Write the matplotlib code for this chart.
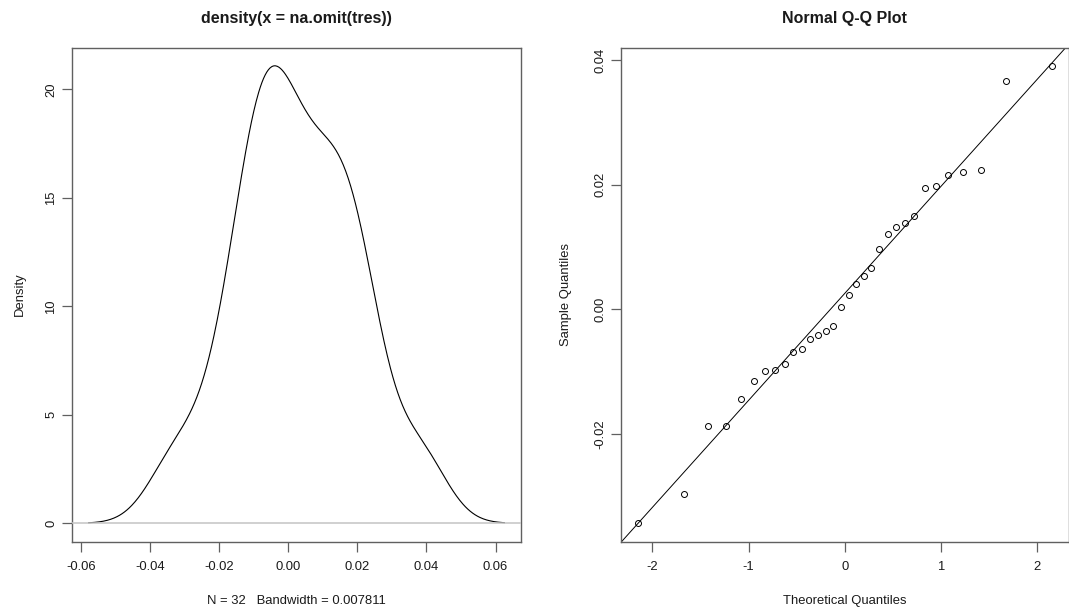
import numpy as np
import matplotlib
matplotlib.use("Agg")
import matplotlib.pyplot as plt
from statistics import NormalDist

# ---- data (sorted residuals, n = 32) ----
sample_values = [
    -0.03434, -0.02962, -0.01878, -0.01867, -0.01444, -0.01150, -0.00990, -0.00975,
    -0.00878, -0.00680, -0.00640, -0.00475, -0.00416, -0.00341, -0.00266, 0.00040,
    0.00234, 0.00405, 0.00540, 0.00669, 0.00964, 0.01212, 0.01330, 0.01389,
    0.01496, 0.01942, 0.01988, 0.02162, 0.02200, 0.02243, 0.03665, 0.03912,
]
bandwidth = 0.007811
density_xticks = [-0.06, -0.04, -0.02, 0.00, 0.02, 0.04, 0.06]
density_yticks = [0, 5, 10, 15, 20]
qq_xticks = [-2, -1, 0, 1, 2]
qq_yticks = [-0.02, 0.00, 0.02, 0.04]

plt.rcParams['font.family'] = ['Liberation Sans', 'DejaVu Sans']

y = np.sort(np.array(sample_values))
n = len(y)

# Gaussian kernel density (as R's density(), cut = 3, n = 512)
gx = np.linspace(y.min() - 3 * bandwidth, y.max() + 3 * bandwidth, 512)
dens = np.exp(-0.5 * ((gx[:, None] - y[None, :]) / bandwidth) ** 2).sum(axis=1)
dens /= (n * bandwidth * np.sqrt(2 * np.pi))

# Theoretical quantiles (R ppoints for n > 10)
nd = NormalDist()
theo = np.array([nd.inv_cdf((i - 0.5) / n) for i in range(1, n + 1)])
q1y, q3y = np.quantile(y, [0.25, 0.75])
q1x, q3x = nd.inv_cdf(0.25), nd.inv_cdf(0.75)
slope = (q3y - q1y) / (q3x - q1x)
intercept = q1y - slope * q1x

W, H = 1069, 613
fig = plt.figure(figsize=(W / 100, H / 100), dpi=100)
bottom = (H - 541.5) / H
height = (541.5 - 47.5) / H
ax1 = fig.add_axes([72 / W, bottom, (521 - 72) / W, height])
ax2 = fig.add_axes([621 / W, bottom, (1068.5 - 621) / W, height])

def r_lim(lo, hi):
    d = (hi - lo) * 0.04
    return lo - d, hi + d

spine_col = '#606060'
text_col = '#1a1a1a'
lab_fs = 9.4
tick_fs = 9.4
for ax in (ax1, ax2):
    for s in ax.spines.values():
        s.set_color(spine_col)
        s.set_linewidth(1.0)
    ax.tick_params(direction='out', length=7.5, width=0.9, color=spine_col,
                   labelsize=tick_fs, labelcolor=text_col)
    ax.tick_params(axis='x', pad=6.5)
    ax.tick_params(axis='y', pad=3)

# ---- density panel ----
ax1.plot(gx, dens, color='black', lw=0.8, zorder=2)
ax1.axhline(0, color='#c4c4c4', lw=1.1, zorder=3)
ax1.set_xlim(*r_lim(gx.min(), gx.max()))
ax1.set_ylim(*r_lim(0, dens.max()))
ax1.set_xticks(density_xticks)
ax1.set_xticklabels([f"{v:.2f}" for v in density_xticks])
ax1.set_yticks(density_yticks)
ax1.set_yticklabels([str(v) for v in density_yticks], rotation=90, va='center')
ax1.set_title("density(x = na.omit(tres))", fontsize=11.5, fontweight='bold',
              color=text_col, pad=18)
ax1.set_xlabel(f"N = {n}   Bandwidth = {bandwidth}", fontsize=lab_fs, color=text_col, labelpad=16)
ax1.set_ylabel("Density", fontsize=lab_fs, color=text_col, labelpad=14)

# ---- Q-Q panel ----
ax2.plot(theo, y, linestyle='none', marker='o', markersize=4.3,
         markerfacecolor='none', markeredgecolor='black', markeredgewidth=0.7)
ax2.set_xlim(*r_lim(theo.min(), theo.max()))
ax2.set_ylim(*r_lim(y.min(), y.max()))
xl = np.array(ax2.get_xlim())
ax2.plot(xl, intercept + slope * xl, color='black', lw=0.7)
ax2.set_xlim(*r_lim(theo.min(), theo.max()))
ax2.set_ylim(*r_lim(y.min(), y.max()))
ax2.set_xticks(qq_xticks)
ax2.set_xticklabels([str(v) for v in qq_xticks])
ax2.set_yticks(qq_yticks)
ax2.set_yticklabels([f"{v:.2f}" for v in qq_yticks], rotation=90, va='center')
ax2.set_title("Normal Q-Q Plot", fontsize=11.5, fontweight='bold', color=text_col, pad=18)
ax2.set_xlabel("Theoretical Quantiles", fontsize=lab_fs, color=text_col, labelpad=16)
ax2.set_ylabel("Sample Quantiles", fontsize=lab_fs, color=text_col, labelpad=16.5)

fig.savefig("out.png", dpi=100, facecolor='white')
